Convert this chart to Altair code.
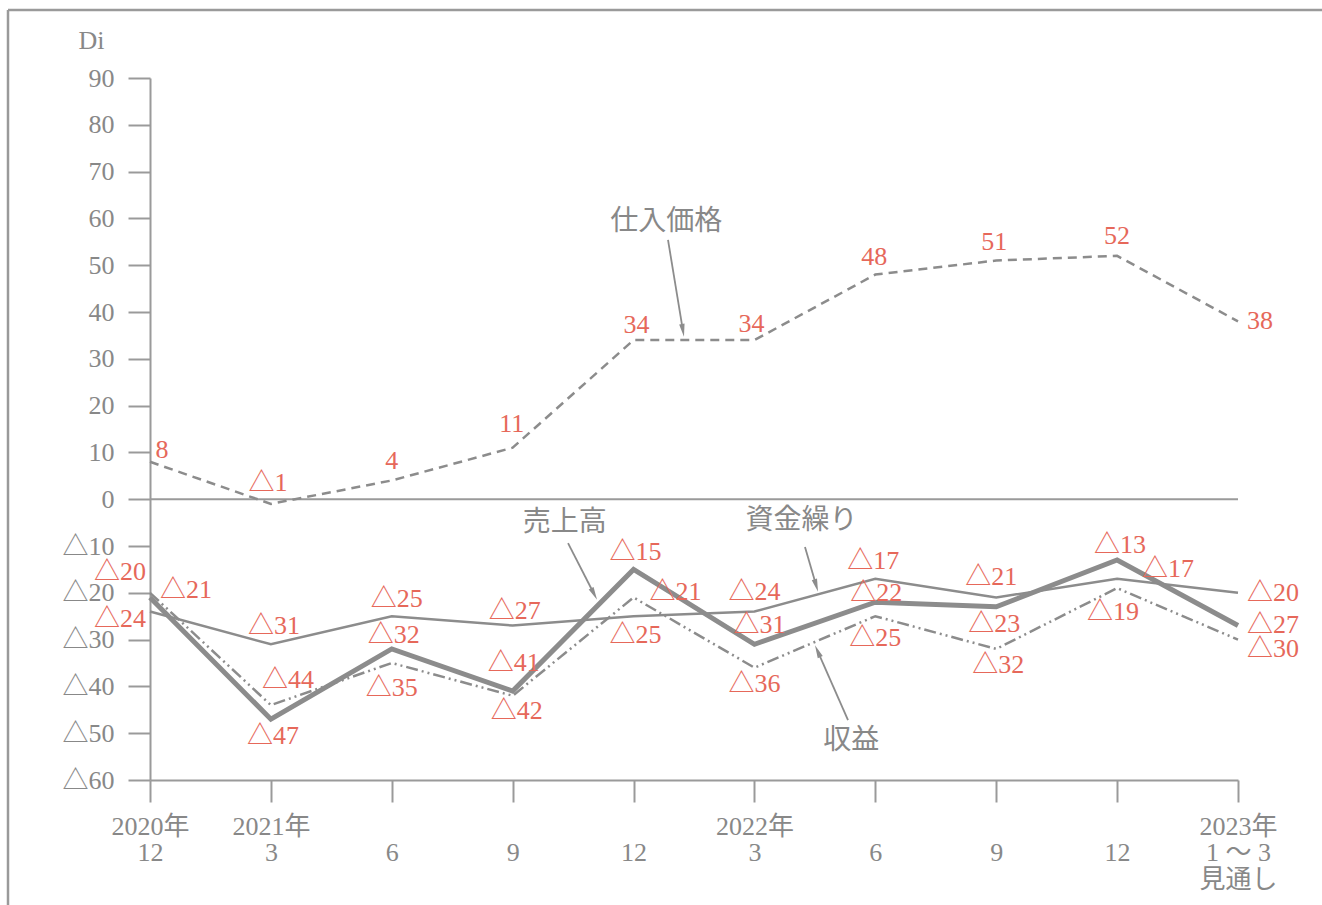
import json
import math

import altair as alt
import pandas as pd

# ---- data -------------------------------------------------------------
periods = list(range(10))
x_labels = [
    ["2020年", "12"], ["2021年", "3"], [" ", "6"], [" ", "9"], [" ", "12"],
    ["2022年", "3"], [" ", "6"], [" ", "9"], [" ", "12"],
    ["2023年", "1 ～ 3", "見通し"],
]

purchase_price = [8, -1, 4, 11, 34, 34, 48, 51, 52, 38]      # 仕入価格
sales = [-21, -47, -32, -41, -15, -31, -22, -23, -13, -27]     # 売上高
cash_flow = [-24, -31, -25, -27, -25, -24, -17, -21, -17, -20]  # 資金繰り
profit = [-20, -44, -35, -42, -21, -36, -25, -32, -19, -30]    # 収益

# label placement (pixel offsets from each point)
purchase_off = [(12, -12), (-3, -21), (0, -19), (-1, -24), (3, -15),
                (-3, -16), (-1, -18), (-2, -19), (0, -20), (22, 0)]
sales_off = [(36, -7), (2, 17), (2, -14), (1, -28), (2, -17),
             (5, -19), (1, -9), (-2, 17), (3, -15), (35, -1)]
cash_off = [(-30, 7), (3, -18), (5, -17), (2, -15), (2, 19),
            (0, -20), (-2, -18), (-5, -20), (51, -10), (35, 0)]
profit_off = [(-30, -21), (17, -25), (0, 25), (4, 15), (42, -5),
              (0, 16), (0, 22), (2, 16), (-4, 24), (35, 9)]

# series callouts: text position, arrow tail, arrow tip (data units)
callouts = [
    ("仕入価格", (4.27, 59.2), (4.285, 55.4), (4.417, 34.7)),
    ("売上高", (3.43, -5.1), (3.458, -9.4), (3.698, -21.5)),
    ("資金繰り", (5.39, -4.7), (5.418, -10.2), (5.526, -19.8)),
    ("収益", (5.80, -51.7), (5.774, -47.2), (5.501, -31.2)),
]

# ---- layout -----------------------------------------------------------
W, H = 1088, 702
X_MIN, X_MAX = 0, 9
Y_MIN, Y_MAX = -60, 90
PX_X = W / (X_MAX - X_MIN)
PX_Y = H / (Y_MAX - Y_MIN)

GRAY = "#8c8c8c"
AXIS_GRAY = "#9a9a9a"
TEXT_GRAY = "#888888"
RED = "#e6685a"
NUM_FONT = "Liberation Serif, Noto Sans CJK JP"
JP_FONT = "Noto Sans CJK JP"


def fmt(v):
    return "△" + str(abs(v)) if v < 0 else str(v)


x_scale = alt.Scale(domain=[X_MIN, X_MAX], nice=False, zero=False)
y_scale = alt.Scale(domain=[Y_MIN, Y_MAX], nice=False, zero=False)

x_axis = alt.Axis(
    values=periods, title=None, grid=False,
    labelExpr=json.dumps(x_labels, ensure_ascii=False) + "[datum.value]",
    labelFont=NUM_FONT, labelFontSize=26, labelLineHeight=26.5,
    labelColor=TEXT_GRAY, labelPadding=11, labelBaseline="top",
    labelAlign="center", labelFlush=False, labelOverlap=False,
    tickSize=22, tickColor=AXIS_GRAY, tickWidth=2,
    domainColor=AXIS_GRAY, domainWidth=2,
)
y_axis = alt.Axis(
    values=list(range(-60, 91, 10)), grid=False,
    labelExpr="datum.value < 0 ? '△' + abs(datum.value) : datum.label",
    labelFont=NUM_FONT, labelFontSize=26, labelColor=TEXT_GRAY,
    labelPadding=14, labelFlush=False, labelOverlap=False,
    tickSize=22, tickColor=AXIS_GRAY, tickWidth=2,
    domainColor=AXIS_GRAY, domainWidth=2,
    title="Di", titleAngle=0, titleAlign="left", titleBaseline="middle",
    titleX=-72, titleY=-38, titleFont=NUM_FONT, titleFontSize=26,
    titleFontWeight="normal", titleColor=TEXT_GRAY,
)


def X(field="x"):
    return alt.X(f"{field}:Q", scale=x_scale, axis=x_axis)


def Y(field="y"):
    return alt.Y(f"{field}:Q", scale=y_scale, axis=y_axis)


def series_frame(values):
    return pd.DataFrame({"x": periods, "y": values})


def label_frame(values, offsets):
    rows = []
    for i, v, (dx, dy) in zip(periods, values, offsets):
        rows.append({"x": i + dx / PX_X, "y": v - dy / PX_Y, "text": fmt(v)})
    return pd.DataFrame(rows)


def line_layer(values, width, dash=None):
    kw = dict(color=GRAY, strokeWidth=width, strokeCap="butt")
    if dash:
        kw["strokeDash"] = dash
    return alt.Chart(series_frame(values)).mark_line(**kw).encode(x=X(), y=Y())


def label_layer(values, offsets):
    return alt.Chart(label_frame(values, offsets)).mark_text(
        font=NUM_FONT, fontSize=26, color=RED, align="center", baseline="middle"
    ).encode(x=X(), y=Y(), text="text:N")


# frame around the figure (top and left edges)
one_row = pd.DataFrame({"k": [0]})
frame_top = alt.Chart(one_row).mark_rule(color=AXIS_GRAY, strokeWidth=2.5).encode(
    x=alt.value(-142), x2=alt.value(1172), y=alt.value(-68), y2=alt.value(-68)
)
frame_left = alt.Chart(one_row).mark_rule(color=AXIS_GRAY, strokeWidth=2.5).encode(
    x=alt.value(-142), x2=alt.value(-142), y=alt.value(-68), y2=alt.value(827)
)

zero_line = alt.Chart(pd.DataFrame({"x": [X_MIN], "x2": [X_MAX], "y": [0]})).mark_rule(
    color=AXIS_GRAY, strokeWidth=2
).encode(x=X(), x2="x2:Q", y=Y())

lines = [
    line_layer(purchase_price, 2.5, [9, 6]),
    line_layer(cash_flow, 2.5),
    line_layer(profit, 2.5, [12, 4, 2, 4, 2, 4]),
    line_layer(sales, 5),
]

labels = [
    label_layer(purchase_price, purchase_off),
    label_layer(sales, sales_off),
    label_layer(cash_flow, cash_off),
    label_layer(profit, profit_off),
]

# callout text and arrows
HEAD = 13
text_rows, rule_rows, head_rows = [], [], []
for name, (tx, ty), (ax, ay), (bx, by) in callouts:
    text_rows.append({"x": tx, "y": ty, "text": name})
    dxp = (bx - ax) * PX_X
    dyp = -(by - ay) * PX_Y
    length = math.hypot(dxp, dyp)
    ux, uy = dxp / length, dyp / length
    cx = bx - ux * HEAD / 2 / PX_X
    cy = by + uy * HEAD / 2 / PX_Y
    rule_rows.append({"x": ax, "y": ay, "x2": cx, "y2": cy})
    angle = math.degrees(math.atan2(ux, -uy)) % 360
    head_rows.append({"x": cx, "y": cy, "angle": angle})

callout_text = alt.Chart(pd.DataFrame(text_rows)).mark_text(
    font=JP_FONT, fontSize=28, color=TEXT_GRAY, align="center", baseline="middle"
).encode(x=X(), y=Y(), text="text:N")

callout_rules = alt.Chart(pd.DataFrame(rule_rows)).mark_rule(
    color=GRAY, strokeWidth=1.8
).encode(x=X(), y=Y(), x2="x2:Q", y2="y2:Q")

callout_heads = alt.Chart(pd.DataFrame(head_rows)).mark_point(
    shape="M0,-1L0.42,1L-0.42,1Z", filled=True, color=GRAY, opacity=1, size=HEAD * HEAD
).encode(x=X(), y=Y(), angle=alt.Angle("angle:Q", scale=None))

chart = alt.layer(
    frame_top, frame_left, zero_line, *lines, *labels,
    callout_rules, callout_heads, callout_text
).properties(
    width=W, height=H,
    autosize=alt.AutoSizeParams(type="none"),
    padding={"left": 150, "top": 78, "right": 84, "bottom": 125},
    background="white",
).configure_view(stroke=None)

chart.save("out.html", embed_options={"renderer": "svg", "actions": False})
